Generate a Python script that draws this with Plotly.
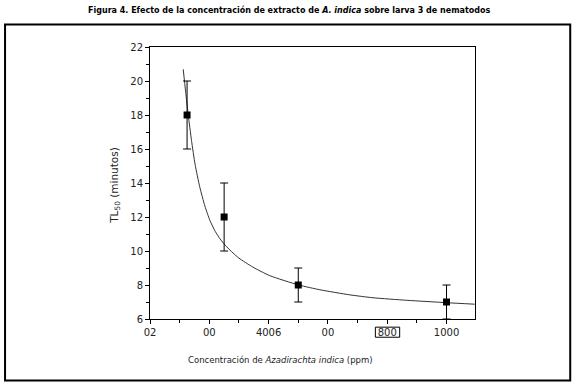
import plotly.graph_objects as go

# Data
conc = [125, 250, 500, 1000]
tl50 = [18, 12, 8, 7]
tl50_err = [2, 2, 1, 1]

curve_x = [112, 120, 129, 140, 152, 168, 185, 202, 220, 236, 253, 280, 300, 347, 404, 502, 573, 674, 752, 866, 1001, 1095]
curve_y = [20.69, 19.4, 18.0, 16.5, 15.1, 13.75, 12.65, 11.8, 11.15, 10.72, 10.35, 9.88, 9.58, 9.05, 8.55, 8.0, 7.72, 7.42, 7.25, 7.1, 6.96, 6.87]

x_tickvals = [0, 200, 400, 600, 800, 1000]
x_ticktext = ["02", "00", "4006", "00", "800", "1000"]
x_minor = [100, 300, 500, 700, 900, 1100]
boxed_tick = 800

title = "Figura 4. Efecto de la concentración de extracto de <i>A. indica</i> sobre larva 3 de nematodos"
x_title = "Concentración de <i>Azadirachta indica</i> (ppm)"
y_title = "TL<sub>50</sub> (minutos)"

fig = go.Figure()
fig.add_trace(go.Scatter(
    x=curve_x, y=curve_y, mode="lines", line=dict(color="#333333", width=1, shape="spline", smoothing=0.6),
    hoverinfo="skip", showlegend=False))
fig.add_trace(go.Scatter(
    x=conc, y=tl50, mode="markers",
    marker=dict(symbol="square", size=7, color="black"),
    error_y=dict(type="data", array=tl50_err, visible=True, color="black", thickness=1, width=4),
    showlegend=False))

font_ticks = dict(family="DejaVu Sans", size=10, color="#222222")

fig.update_layout(
    width=579, height=386,
    margin=dict(l=150, r=104, t=47, b=67),
    paper_bgcolor="white", plot_bgcolor="white",
    showlegend=False,
    xaxis=dict(
        range=[0, 1096], tickmode="array", tickvals=x_tickvals, ticktext=x_ticktext,
        ticks="outside", ticklen=4, tickcolor="black", tickwidth=1,
        minor=dict(tickmode="array", tickvals=x_minor, ticks="outside", ticklen=3, tickcolor="black"),
        showline=True, linecolor="black", linewidth=1, mirror=True,
        showgrid=False, zeroline=False, tickfont=font_ticks,
    ),
    yaxis=dict(
        range=[6, 22], dtick=2, tick0=6,
        ticks="outside", ticklen=4, tickcolor="black", tickwidth=1,
        minor=dict(dtick=1, ticks="outside", ticklen=3, tickcolor="black"),
        showline=True, linecolor="black", linewidth=1, mirror=True,
        showgrid=False, zeroline=False, tickfont=font_ticks,
    ),
    shapes=[
        dict(type="rect", xref="paper", yref="paper",
             x0=-0.446, x1=1.293, y0=-0.226, y1=1.083,
             line=dict(color="black", width=2), fillcolor="rgba(0,0,0,0)", layer="below"),
        dict(type="rect", xref="x", yref="paper",
             x0=boxed_tick - 40, x1=boxed_tick + 42, y0=-0.067, y1=-0.030,
             line=dict(color="black", width=1), fillcolor="rgba(0,0,0,0)"),
    ],
    annotations=[
        dict(text=title, xref="paper", yref="paper", x=0.428, y=1.136, showarrow=False,
             font=dict(family="DejaVu Sans", size=8, color="black", weight="bold"),
             xanchor="center", yanchor="middle"),
        dict(text=x_title, xref="paper", yref="paper", x=0.403, y=-0.151, showarrow=False,
             font=dict(family="DejaVu Sans", size=8.5, color="#222222"),
             xanchor="center", yanchor="middle"),
        dict(text=y_title, xref="paper", yref="paper", x=-0.108, y=0.493, showarrow=False,
             textangle=-90, font=dict(family="DejaVu Sans", size=10.5, color="#222222"),
             xanchor="center", yanchor="middle"),
    ],
)

fig.write_html("out.html", config={"displayModeBar": False},
               post_script="document.body.style.margin='0';")
